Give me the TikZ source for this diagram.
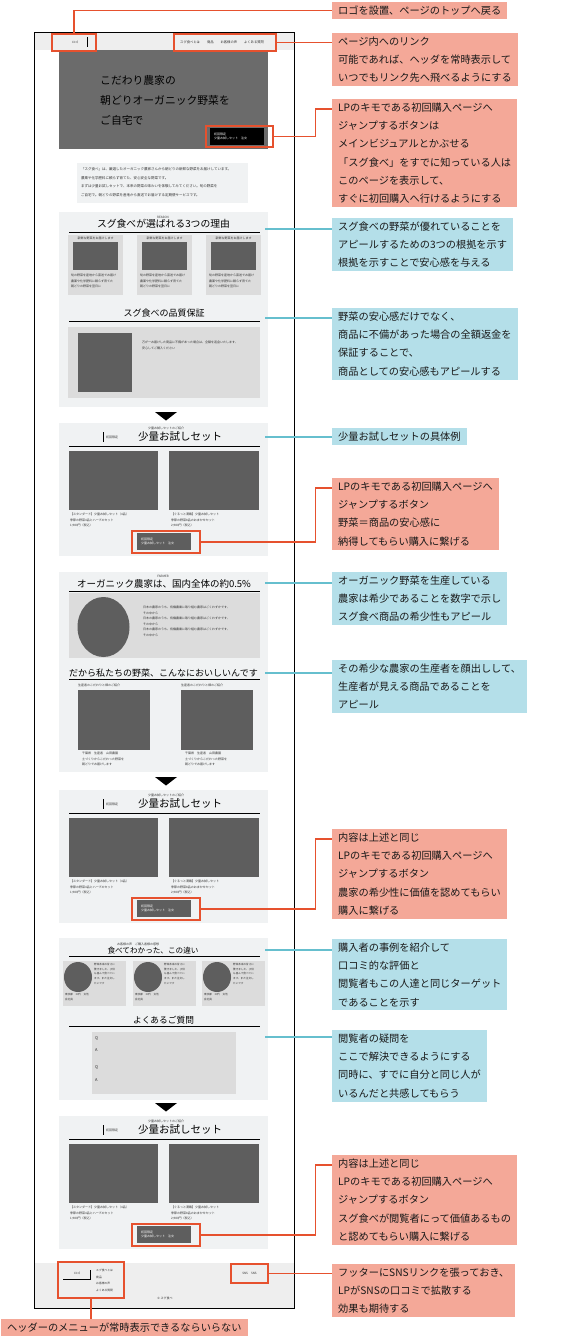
\documentclass[tikz,border=0pt]{standalone}
\usepackage{fontspec}
\setmainfont{Noto Sans CJK JP}
\usepackage{xcolor}
\usepackage{tikz}
\usetikzlibrary{positioning}

\definecolor{lnred}{HTML}{E6512E}
\definecolor{boxred}{HTML}{F4A898}
\definecolor{lnblue}{HTML}{66BFCE}
\definecolor{boxblue}{HTML}{B4DFE9}
\definecolor{secbg}{HTML}{F0F2F3}
\definecolor{cardbg}{HTML}{DCDCDC}
\definecolor{imgbg}{HTML}{5E5E5E}
\definecolor{herobg}{HTML}{6B6B6B}
\definecolor{bandbg}{HTML}{EEEEEE}

\begin{document}
\begin{tikzpicture}[x=1pt,y=-1pt,
  note/.style={anchor=north west,align=left,inner xsep=6pt,inner ysep=3.5pt,
    font=\fontsize{10.2}{18.3}\selectfont,text=black!90},
  rednote/.style={note,fill=boxred},
  bluenote/.style={note,fill=boxblue},
  hl/.style={draw=lnred,line width=1.3pt,inner sep=0pt},
  redln/.style={draw=lnred,line width=1.3pt},
  blueln/.style={draw=lnblue,line width=1.2pt},
  ttl/.style={font=\fontsize{9.5}{11}\selectfont,inner sep=0pt},
  wee/.style={font=\fontsize{3}{5.5}\selectfont,text=black!80,inner sep=0pt},
  btn/.style={fill=imgbg,text=white,font=\fontsize{3}{4.5}\selectfont,align=left,
    minimum width=54pt,minimum height=17pt,text width=46pt,inner sep=1pt},
  uline/.style={line width=.8pt}]
\useasboundingbox (0,0) rectangle (571,1343);

% header
\fill[bandbg] (34,33) rectangle (294,50);
\node[wee] at (75,42) {ロゴ};
\draw[line width=.6pt] (87,37) -- (87,47);
\node[wee,anchor=west,font=\fontsize{3.3}{4}\selectfont] at (180,42)
  {スグ食べとは\hspace{7pt}商品\hspace{7pt}お客様の声\hspace{7pt}よくある質問};

% main visual
\fill[herobg] (59,50) rectangle (268,149);
\node[anchor=west,align=left,inner sep=0pt,font=\fontsize{10.8}{20}\selectfont,text=black]
  (lead) at (100,100) {こだわり農家の\\朝どりオーガニック野菜を\\ご自宅で};
\node[btn,fill=black] at (237,136.5) {初回限定\\少量お試しセット　注文};

% intro
\fill[secbg] (77,163) rectangle (248,203);
\node[wee,anchor=north west,align=left,font=\fontsize{3.5}{8.6}\selectfont] at (81,167.5)
  {「スグ食べ」は、厳選したオーガニック農家さんから朝どりの新鮮な野菜をお届けしています。\\
   農薬や化学肥料に頼らず育てた、安心安全な野菜です。\\
   まずは少量お試しセットで、本来の野菜の味わいを体験してみてください。旬の野菜を\\
   ご自宅で。朝どりの野菜を産地から直送でお届けする定期便サービスです。};

% reasons
\fill[secbg] (59,212) rectangle (268,407);
\node[wee] at (163,217) {REASON};
\node[ttl,font=\fontsize{9.8}{11}\selectfont] (t1) at (163.5,224) {スグ食べが選ばれる3つの理由};
\draw[uline] (69,232) -- (260,232);
\foreach \xx in {68,137,206}{
  \fill[cardbg] (\xx,235) rectangle (\xx+55,295);
  \fill[imgbg] (\xx+5,242) rectangle (\xx+50,270);
  \node[wee] at (\xx+27.5,238.5) {新鮮な野菜をお届けします};
  \node[wee,anchor=north west,align=left] at (\xx+3,274)
    {旬の野菜を産地から直送でお届け\\農薬や化学肥料に頼らず育てた\\朝どりの野菜を翌日に};
}
\node[ttl,font=\fontsize{9}{11}\selectfont] (t2) at (164,313) {スグ食べの品質保証};
\draw[uline] (69,321) -- (260,321);
\fill[cardbg] (68,327) rectangle (260,398);
\fill[imgbg] (78,333) rectangle (132,392);
\node[wee,anchor=north west,align=left] at (142,341)
  {万が一お届けした商品に不備があった場合は、全額を返金いたします。\\安心してご購入ください};

% arrows between blocks
\foreach \yy in {412,777,1103}
  \fill (155,\yy) -- (177,\yy) -- (166,\yy+8.5) -- cycle;

% trial set (three times)
\foreach \yy [count=\i] in {423,790,1116}{
  \fill[secbg] (59,\yy) rectangle (268,\yy+133);
  \node[wee] at (166,\yy+5) {少量お試しセットのご紹介};
  \draw[line width=.6pt] (103,\yy+9) -- (103,\yy+19);
  \node[wee,anchor=west] at (106,\yy+14) {初回限定};
  \node[ttl,font=\fontsize{10.5}{12}\selectfont] (s\i) at (180,\yy+14) {少量お試しセット};
  \draw[uline] (69,\yy+23) -- (260,\yy+23);
  \fill[imgbg] (69,\yy+28) rectangle (158,\yy+87);
  \fill[imgbg] (169,\yy+28) rectangle (259,\yy+87);
  \node[wee,anchor=north west,align=left] at (70,\yy+90)
    {【スタンダード】少量お試しセット（4品）\\季節の野菜4品とハーブのセット\\1,980円（税込）};
  \node[wee,anchor=north west,align=left] at (171,\yy+90)
    {【ぐるっと満載】少量お試しセット\\季節の野菜8品のおまかせセット\\2,980円（税込）};
  \node[btn] at (164,\yy+118.5) {初回限定\\少量お試しセット　注文};
  \node[hl,minimum width=68pt,minimum height=22pt] (b\i) at (166,\yy+119) {};
}

% farmers
\fill[secbg] (59,572) rectangle (268,772);
\node[wee] at (163,576) {FARMER};
\node[ttl] (t3) at (164,584) {オーガニック農家は、国内全体の約0.5\%};
\draw[uline] (69,591) -- (260,591);
\fill[cardbg] (69,593) rectangle (260,658);
\fill[imgbg] (103.5,627) ellipse [x radius=26pt,y radius=30pt];
\node[wee,anchor=north west,align=left,font=\fontsize{3}{5.5}\selectfont] at (143,606)
  {日本の農家のうち、有機農業に取り組む農家はごくわずかです。\\その中から\\
   日本の農家のうち、有機農業に取り組む農家はごくわずかです。\\その中から\\
   日本の農家のうち、有機農業に取り組む農家はごくわずかです。\\その中から};
\node[ttl,font=\fontsize{9}{11}\selectfont] (t4) at (163.5,673) {だから私たちの野菜、こんなにおいしいんです};
\draw[uline] (69,679) -- (260,679);
\foreach \xx in {78,181}{
  \node[wee,anchor=west] at (\xx,685.5) {生産者のこだわりと畑のご紹介};
  \fill[imgbg] (\xx,690) rectangle (\xx+72,750);
  \node[wee,anchor=north west,align=left] at (\xx+4,752)
    {千葉県　生産者　山田農園\\土づくりからこだわった野菜を\\朝どりでお届けします};
}

% voices and faq
\fill[secbg] (59,938) rectangle (268,1100);
\node[wee] at (138,944) {お客様の声　ご購入者様の感想};
\node[ttl,font=\fontsize{7.6}{9}\selectfont] (t5) at (153,950.5) {食べてわかった、この違い};
\draw[uline] (69,956) -- (260,956);
\foreach \xx in {63,133,202}{
  \fill[cardbg] (\xx,961) rectangle (\xx+63,1006);
  \fill[imgbg] (\xx+15,977) ellipse [x radius=14pt,y radius=15pt];
  \node[wee,anchor=north west,align=left,font=\fontsize{2.6}{4.7}\selectfont] at (\xx+31,963)
    {野菜本来の甘さに\\驚きました。子供\\も喜んで食べてい\\ます。また注文し\\たいです};
  \node[wee,anchor=north west,align=left,font=\fontsize{2.6}{4.7}\selectfont] at (\xx+2,993)
    {東京都　30代　女性\\会社員};
}
\node[ttl,font=\fontsize{8.7}{10}\selectfont] (t6) at (163.5,1020) {よくあるご質問};
\draw[uline] (69,1026) -- (260,1026);
\fill[cardbg] (92,1032) rectangle (236,1094);
\foreach \yy/\q in {1038/Q,1050/A,1067/Q,1080/A}
  \node[anchor=west,inner sep=0pt,font=\fontsize{4}{5}\selectfont,text=black!85] at (95,\yy) {\q};

% footer
\fill[bandbg] (34,1263) rectangle (294,1308);
\node[wee] at (77,1273) {ロゴ};
\draw[line width=.6pt] (63,1279) -- (90,1279) -- (90,1270);
\node[wee,anchor=north west,align=left,font=\fontsize{2.8}{6.6}\selectfont] at (96,1269)
  {スグ食べとは\\商品\\お客様の声\\よくある質問};
\node[wee] at (249.5,1273.5) {SNS　SNS};
\node[wee] at (165,1298) {© スグ食べ};

% page frame
\draw[line width=1pt] (34,33) rectangle (294,1308);

% marked parts
\node[hl,minimum width=44pt,minimum height=17pt] (logo) at (74,42.5) {};
\node[hl,minimum width=102pt,minimum height=17pt] (nav) at (225,42.5) {};
\node[hl,minimum width=67pt,minimum height=21pt] (hbtn) at (239.5,136.5) {};
\node[hl,minimum width=66pt,minimum height=36pt] (fnav) at (91,1280) {};
\node[hl,minimum width=37pt,minimum height=19pt] (fsns) at (249.5,1273.5) {};

% notes
\node[rednote] (n1) at (332,2) {ロゴを設置、ページのトップへ戻る};
\node[rednote] (n2) at (332,33) {ページ内へのリンク\\可能であれば、ヘッダを常時表示して\\いつでもリンク先へ飛べるようにする};
\node[rednote] (n3) at (332,99) {LPのキモである初回購入ページへ\\ジャンプするボタンは\\メインビジュアルとかぶせる\\「スグ食べ」をすでに知っている人は\\このページを表示して、\\すぐに初回購入へ行けるようにする};
\node[bluenote] (n4) at (332,218) {スグ食べの野菜が優れていることを\\アピールするための3つの根拠を示す\\根拠を示すことで安心感を与える};
\node[bluenote] (n5) at (332,308) {野菜の安心感だけでなく、\\商品に不備があった場合の全額返金を\\保証することで、\\商品としての安心感もアピールする};
\node[bluenote] (n6) at (332,428) {少量お試しセットの具体例};
\node[rednote] (n7) at (332,478) {LPのキモである初回購入ページへ\\ジャンプするボタン\\野菜＝商品の安心感に\\納得してもらい購入に繋げる};
\node[bluenote] (n8) at (332,572) {オーガニック野菜を生産している\\農家は希少であることを数字で示し\\スグ食べ商品の希少性もアピール};
\node[bluenote] (n9) at (332,660) {その希少な農家の生産者を顔出しして、\\生産者が見える商品であることを\\アピール};
\node[rednote] (n10) at (332,829) {内容は上述と同じ\\LPのキモである初回購入ページへ\\ジャンプするボタン\\農家の希少性に価値を認めてもらい\\購入に繋げる};
\node[bluenote] (n11) at (332,939) {購入者の事例を紹介して\\口コミ的な評価と\\閲覧者もこの人達と同じターゲット\\であることを示す};
\node[bluenote] (n12) at (332,1030) {閲覧者の疑問を\\ここで解決できるようにする\\同時に、すでに自分と同じ人が\\いるんだと共感してもらう};
\node[rednote] (n13) at (332,1155) {内容は上述と同じ\\LPのキモである初回購入ページへ\\ジャンプするボタン\\スグ食べが閲覧者にって価値あるもの\\と認めてもらい購入に繋げる};
\node[rednote] (n14) at (332,1264) {フッターにSNSリンクを張っておき、\\LPがSNSの口コミで拡散する\\効果も期待する};
\node[rednote] (n15) at (1,1319) {ヘッダーのメニューが常時表示できるならいらない};

% connectors
\draw[redln] (logo.north) |- (n1.west);
\draw[redln] (nav.east) -- (nav.east -| n2.west);
\draw[redln] (hbtn.east) -- ++(42,0) |- ([yshift=-10pt]n3.north west);
\foreach \i/\n in {1/n7,2/n10,3/n13}
  \draw[redln] (b\i.east) -- ++(115,0) |- ([yshift=-10pt]\n.north west);
\draw[redln] (fsns.east) -- (fsns.east -| n14.west);
\draw[redln] (fnav.south) -- (fnav.south |- n15.north);
\foreach \n/\yy in {n4/229,n5/318,n6/437,n8/583,n9/673,n11/950,n12/1037}{
  \coordinate (e\n) at (265,\yy);
  \draw[blueln] (e\n) -- (e\n -| \n.west);
}
\end{tikzpicture}
\end{document}
